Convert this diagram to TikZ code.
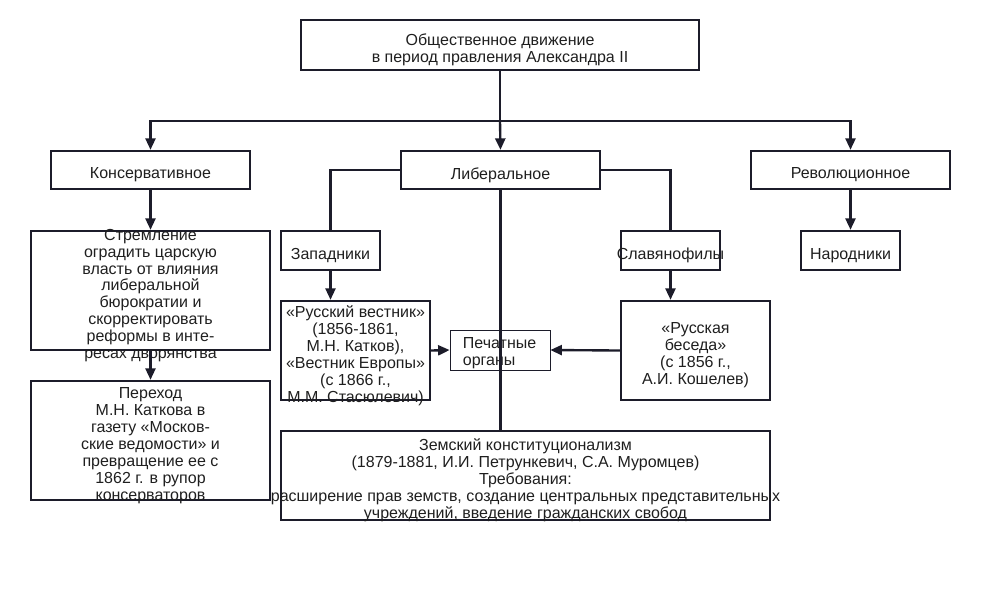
\documentclass[tikz,border=0pt]{standalone}
\usepackage{fontspec}
\setmainfont{Liberation Sans}
\usetikzlibrary{arrows.meta}
\definecolor{ink}{RGB}{28,28,42}

\begin{document}
\begin{tikzpicture}[x=0.02cm,y=-0.02cm,
		box/.style={draw=ink,line width=1.35pt,inner sep=0pt},
		thinbox/.style={draw=ink,line width=0.45pt,inner sep=0pt},
		txt/.style={align=center,inner sep=0pt,yshift=-0.1cm,text=black!88,font=\fontsize{9.1pt}{9.65pt}\selectfont},
		link/.style={draw=ink,line width=1.35pt},
		arr/.style={link,-{Triangle[length=2.3mm,width=2mm]}}]
	\useasboundingbox (0,0) rectangle (1000,600);
	\node[box,minimum width=7.96cm,minimum height=1cm] (top) at (500,45) {};
	\node[txt] (top-t) at (top) {Общественное движение\\в период правления Александра II};
	\node[box,minimum width=3.98cm,minimum height=0.76cm] (kons) at (150.5,170) {};
	\node[txt] (kons-t) at (kons) {Консервативное};
	\node[box,minimum width=3.98cm,minimum height=0.76cm] (lib) at (500.5,170) {};
	\node[txt] (lib-t) at (lib) {Либеральное};
	\node[box,minimum width=3.98cm,minimum height=0.76cm] (rev) at (850.5,170) {};
	\node[txt] (rev-t) at (rev) {Революционное};
	\node[box,minimum width=4.78cm,minimum height=2.38cm] (strem) at (150.5,290.5) {};
	\node[txt] (strem-t) at (strem) {Стремление\\оградить царскую\\власть от влияния\\либеральной\\бюрократии и\\скорректировать\\реформы в инте-\\ресах дворянства};
	\node[box,minimum width=4.78cm,minimum height=2.38cm] (perek) at (150.5,440.5) {};
	\node[txt] (perek-t) at (perek) {Переход\\М.Н. Каткова в\\газету «Москов-\\ские ведомости» и\\превращение ее с\\1862 г. в рупор\\консерваторов};
	\node[box,minimum width=1.98cm,minimum height=0.78cm] (zap) at (330.5,250.5) {};
	\node[txt] (zap-t) at (zap) {Западники};
	\node[box,minimum width=1.98cm,minimum height=0.78cm] (slav) at (670.5,250.5) {};
	\node[txt] (slav-t) at (slav) {Славянофилы};
	\node[box,minimum width=1.98cm,minimum height=0.78cm] (narod) at (850.5,250.5) {};
	\node[txt] (narod-t) at (narod) {Народники};
	\node[box,minimum width=2.98cm,minimum height=1.98cm] (rv) at (355.5,350.5) {};
	\node[txt] (rv-t) at (rv) {«Русский вестник»\\(1856-1861,\\М.Н. Катков),\\«Вестник Европы»\\(с 1866 г.,\\М.М. Стасюлевич)};
	\node[box,minimum width=2.98cm,minimum height=1.98cm] (rb) at (695.5,350.5) {};
	\node[txt] (rb-t) at (rb) {«Русская\\беседа»\\(с 1856 г.,\\А.И. Кошелев)};
	\node[thinbox,minimum width=2cm,minimum height=0.8cm] (pech) at (500,350) {};
	\node[txt,align=left,anchor=west] (pech-t) at ([xshift=0.26cm,yshift=0.03cm]pech.west) {Печатные\\органы};
	\node[box,minimum width=9.78cm,minimum height=1.78cm] (zem) at (525.5,475.5) {};
	\node[txt] (zem-t) at (zem) {Земский конституционализм\\(1879-1881, И.И. Петрункевич, С.А. Муромцев)\\Требования:\\расширение прав земств, создание центральных представительных\\учреждений, введение гражданских свобод};
	\coordinate (split) at (500,121);
	\draw[link] (top.south) -- (split);
	\draw[arr] (split) -| (kons.north);
	\draw[arr] (split) -- (lib.north);
	\draw[arr] (split) -| (rev.north);
	\draw[arr] (kons.south) -- (strem.north);
	\draw[arr] (strem.south) -- (perek.north);
	\draw[arr] (rev.south) -- (narod.north);
	\draw[link] (lib.west) -| (zap.north);
	\draw[link] (lib.east) -| (slav.north);
	\draw[link] (lib.south) -- (lib.south |- zem.north);
	\draw[arr] (zap.south) -- (zap.south |- rv.north);
	\draw[arr] (slav.south) -- (slav.south |- rb.north);
	\draw[arr] (rv.east) -- (pech.west);
	\draw[arr] (rb.west) -- (pech.east);
\end{tikzpicture}
\end{document}
